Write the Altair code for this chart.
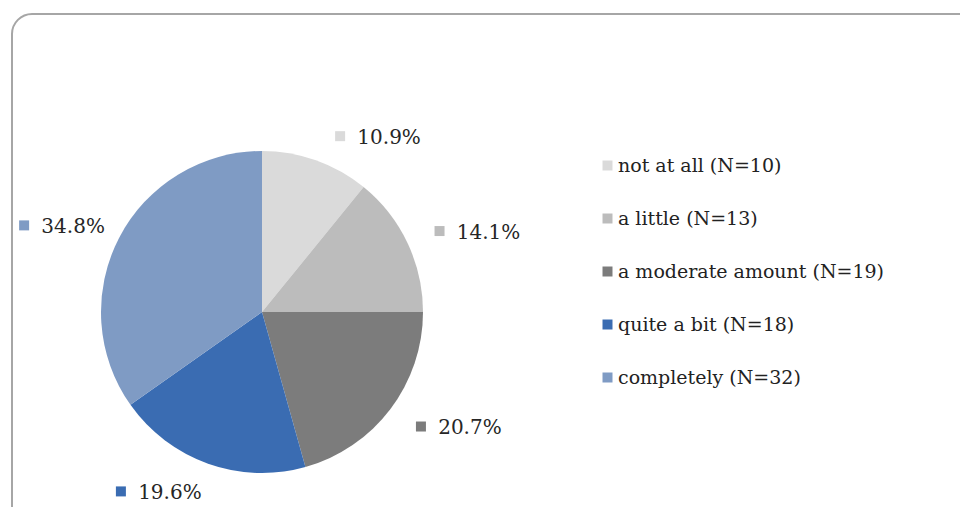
import altair as alt
import pandas as pd

# ---- data ----
categories = ["not at all (N=10)", "a little (N=13)", "a moderate amount (N=19)",
              "quite a bit (N=18)", "completely (N=32)"]
counts = [10, 13, 19, 18, 32]
pct_labels = ["10.9%", "14.1%", "20.7%", "19.6%", "34.8%"]
colors = ["#dadada", "#bcbcbc", "#7c7c7c", "#3a6cb2", "#7f9bc4"]

df = pd.DataFrame({"category": categories, "count": counts,
                   "label": pct_labels, "idx": list(range(len(categories)))})

# ---- layout / style ----
W, H = 948, 493               # view size (svg = 952 x 499)
CX, CY, R = 250, 298, 161     # pie centre & radius (view pixels)
LR = 175                      # label anchor radius

color_scale = alt.Scale(domain=categories, range=colors)

frame = alt.Chart(pd.DataFrame({"f": [0]})).mark_rect(
    cornerRadius=20, fillOpacity=0, stroke="#a6a6a6", strokeWidth=2
).encode(x=alt.value(0), y=alt.value(0), x2=alt.value(W + 40), y2=alt.value(H + 40))

base = alt.Chart(df)

pie = base.mark_arc(outerRadius=R, x=CX, y=CY).encode(
    theta=alt.Theta("count:Q", stack=True),
    order=alt.Order("idx:Q"),
    color=alt.Color("category:N", scale=color_scale, sort=categories,
                    legend=alt.Legend(title=None, orient="none", legendX=586, legendY=142,
                                      symbolType="square", symbolSize=100,
                                      symbolStrokeWidth=0, labelFont="DejaVu Serif",
                                      labelFontSize=19, labelColor="#222222",
                                      rowPadding=33, labelOffset=1, padding=0,
                                      labelLimit=500)),
)

lab = base.transform_joinaggregate(total="sum(count)").transform_window(
    cum="sum(count)", sort=[alt.SortField("idx", order="ascending")], frame=[None, 0]
).transform_calculate(
    mid="(datum.cum - datum.count / 2) / datum.total * 2 * PI",
).transform_calculate(
    s="sin(datum.mid) >= 0 ? 1 : -1",
    c="cos(datum.mid)",
).transform_calculate(
    bx=f"{CX} + {LR} * sin(datum.mid) + (datum.s > 0 ? 44 : -58)",
    by=f"{CY} - {LR} * datum.c - datum.c * (datum.c > 0 ? 10 : 17)",
).transform_calculate(
    tx="datum.bx + 24.5",
    mx="datum.bx - 24.5",
    my="datum.by - 1.5",
)

text = lab.mark_text(font="DejaVu Serif", fontSize=20, color="#262626",
                     align="center", baseline="middle").encode(
    x=alt.X("tx:Q", scale=None, axis=None),
    y=alt.Y("by:Q", scale=None, axis=None),
    text=alt.Text("label:N"),
)

marks = lab.mark_square(size=100, opacity=1, strokeWidth=0).encode(
    x=alt.X("mx:Q", scale=None, axis=None),
    y=alt.Y("my:Q", scale=None, axis=None),
    color=alt.Color("category:N", scale=color_scale, legend=None),
)

chart = alt.layer(frame, pie, marks, text).properties(
    width=W, height=H, autosize="none",
    padding={"left": 4, "top": 6, "right": 0, "bottom": 0},
).configure_view(stroke="transparent")

chart.save("out.html", embed_options={"renderer": "svg", "actions": False})
